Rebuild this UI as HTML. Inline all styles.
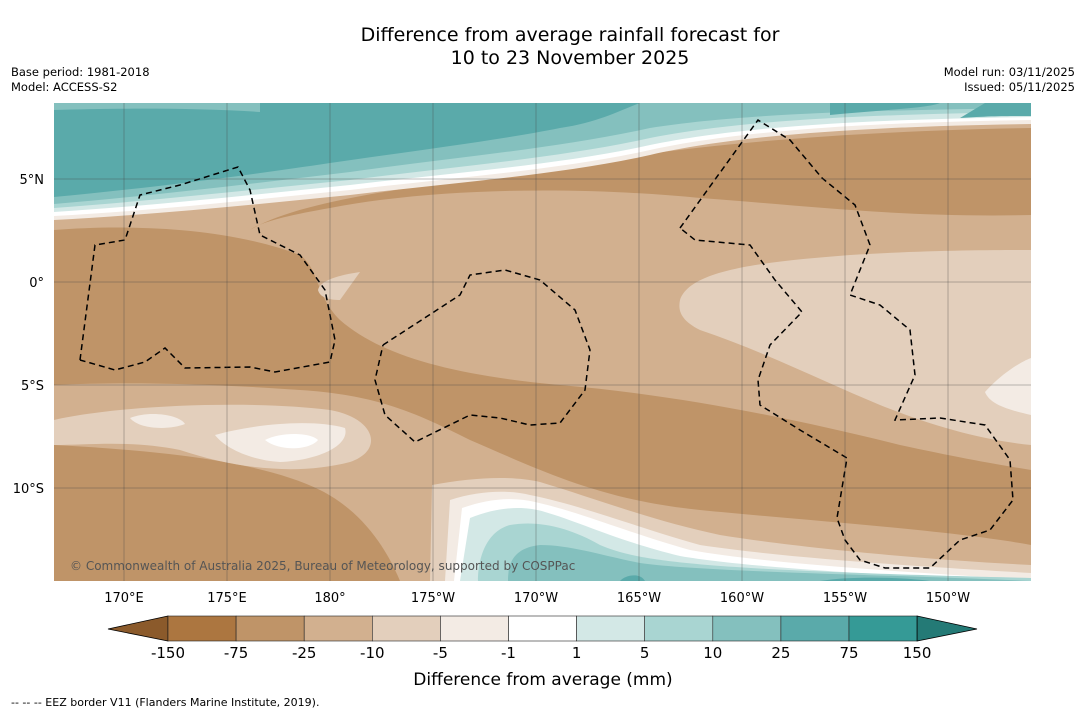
<!DOCTYPE html>
<html><head><meta charset="utf-8"><style>
body{margin:0;background:#fff;width:1085px;height:713px;overflow:hidden;font-family:"Liberation Sans","DejaVu Sans",sans-serif}
svg text{font-family:"DejaVu Sans","Liberation Sans",sans-serif}
</style></head><body>
<svg width="1085" height="713">
<rect width="1085" height="713" fill="#fff"/>
<text x="570" y="41" font-size="19" text-anchor="middle">Difference from average rainfall forecast for</text>
<text x="570" y="64" font-size="19" text-anchor="middle">10 to 23 November 2025</text>
<text x="11" y="76" font-size="11.5">Base period: 1981-2018</text>
<text x="11" y="91" font-size="11.5">Model: ACCESS-S2</text>
<text x="1075" y="76" font-size="11.5" text-anchor="end">Model run: 03/11/2025</text>
<text x="1075" y="91" font-size="11.5" text-anchor="end">Issued: 05/11/2025</text>
<defs><clipPath id="mc"><rect x="54" y="103" width="977" height="478"/></clipPath></defs>
<g clip-path="url(#mc)">
<rect x="54" y="103" width="977" height="478" fill="#d2b08f"/>
<path fill="#bf9468" d="M250,230 C300,200 420,185 550,170 C700,140 900,130 1031,128 L1031,215 C900,218 800,205 700,198 C600,188 450,185 330,208 C290,215 260,222 250,230Z"/>
<path fill="#bf9468" d="M54,230 C120,225 220,225 300,255 C320,270 315,295 340,320 C380,355 450,375 560,385 C680,395 800,420 900,445 C960,458 1000,465 1031,470 L1031,545 C950,530 800,520 700,510 C600,500 540,470 470,440 C420,415 380,395 300,390 C200,383 120,382 54,385Z"/>
<path fill="#bf9468" d="M54,445 C150,450 260,460 320,490 C360,510 385,545 400,581 L54,581Z"/>
<path fill="#e3cfbc" d="M54,420 C120,405 250,400 330,410 C375,418 385,450 350,462 C300,475 240,470 180,450 C130,440 90,445 54,445Z"/>
<path fill="#f3ebe4" d="M130,418 C150,410 180,415 185,424 C170,430 140,430 130,418Z M215,435 C250,425 310,418 345,428 C350,445 320,460 280,462 C250,460 225,448 215,435Z"/>
<path fill="#fff" d="M265,440 C280,432 310,432 318,440 C310,450 280,452 265,440Z"/>
<path fill="#e3cfbc" d="M680,300 C690,270 760,262 850,255 C930,250 1000,250 1031,250 L1031,445 C980,440 930,425 880,405 C820,380 760,350 700,330 C680,320 678,310 680,300Z"/>
<path fill="#e3cfbc" d="M318,290 C320,280 340,275 360,272 L340,300 C330,300 320,298 318,290Z"/>
<path fill="#f3ebe4" d="M985,392 C1000,375 1020,362 1031,358 L1031,415 C1010,410 990,405 985,392Z"/>
<path fill="#e3cfbc" d="M430,581 L432,485 C470,478 510,475 540,482 C600,500 650,520 720,535 C800,548 930,560 1031,565 L1031,581Z"/>
<path fill="#f3ebe4" d="M445,581 L450,500 C480,490 510,490 530,495 C580,505 630,525 700,545 C800,560 950,568 1031,573 L1031,581Z"/>
<path fill="#fff" d="M454,581 L462,508 C490,498 515,497 535,502 C580,512 620,530 690,550 C780,566 950,574 1031,580 L1031,581Z"/>
<path fill="#d3e8e6" d="M460,581 L470,518 C500,506 525,506 545,512 C580,522 615,540 680,556 C760,570 950,578 1031,582 Z"/>
<path fill="#a9d5d2" d="M478,581 C478,560 485,532 510,525 C540,520 570,528 600,545 C640,562 700,570 1031,578 L1031,581Z"/>
<path fill="#84c0be" d="M508,581 C508,565 512,548 540,545 C570,545 600,555 640,563 C700,572 900,575 1031,581Z"/>
<path fill="#5aaaaa" d="M620,581 C625,575 640,572 645,581Z M820,581 C850,576 900,577 930,581Z"/>
<path fill="#f3ebe4" d="M54,220 C150,215 250,205 350,195 C450,183 560,175 650,155 C750,132 900,126 1031,124 L1031,103 L54,103Z"/>
<path fill="#fff" d="M54,216 C150,211 250,200 350,190 C450,178 560,170 650,150 C750,128 900,122 1031,120 L1031,103 L54,103Z"/>
<path fill="#d3e8e6" d="M54,212 C150,206 250,195 350,185 C450,173 560,165 650,145 C750,124 900,119 1031,117 L1031,103 L54,103Z"/>
<path fill="#a9d5d2" d="M54,208 C150,201 250,190 350,180 C450,167 560,158 650,138 C750,118 900,114 1031,112 L1031,103 L54,103Z"/>
<path fill="#84c0be" d="M54,204 C150,196 250,184 350,172 C450,158 560,148 650,128 C750,112 900,110 1031,108 L1031,103 L54,103Z"/>
<path fill="#5aaaaa" d="M54,197 C150,188 250,175 330,163 C420,150 500,140 560,128 C600,122 620,110 640,103 L54,103Z"/>
<path fill="#84c0be" d="M54,110 C120,108 200,108 260,112 L260,103 L54,103Z"/>
<path fill="#5aaaaa" d="M830,115 C880,110 930,108 940,103 L830,103Z M960,118 C990,116 1010,116 1031,116 L1031,103 L985,103Z"/>
<g fill="none" stroke="#000" stroke-width="1.5" stroke-dasharray="6,4">
<polyline points="80,360 95,245 125,240 140,195 180,185 238,167 250,190 260,235 300,255 325,290 335,340 330,362 275,372 250,367 185,368 165,348 145,362 115,370 80,360"/>
<polyline points="383,345 460,295 470,275 505,270 540,280 575,310 590,350 585,390 560,423 530,425 500,418 470,415 415,442 385,415 375,380 383,345"/>
<polyline points="680,228 758,120 790,140 822,178 855,205 870,245 850,295 880,305 910,330 915,375 895,420 940,418 985,425 1010,460 1013,500 990,530 960,540 930,568 885,568 860,560 845,540 837,518 847,458 800,430 760,405 758,380 770,345 802,312 775,280 750,245 695,240 680,228"/>
</g>
<g stroke="#444" stroke-width="0.5" stroke-opacity="0.7" id="grid"></g>
<text x="70" y="570" font-size="12" fill="#555">© Commonwealth of Australia 2025, Bureau of Meteorology, supported by COSPPac</text>
</g>
<g id="axes" font-size="13"></g>
<g id="cbar"></g>
<text x="543" y="685" font-size="17" text-anchor="middle">Difference from average (mm)</text>
<text x="11" y="706" font-size="11">--  --  -- EEZ border V11 (Flanders Marine Institute, 2019).</text>
</svg>
<script>
const lonLabels=["170°E","175°E","180°","175°W","170°W","165°W","160°W","155°W","150°W"];
const lonValues=[170,175,180,185,190,195,200,205,210];
const latLabels=["5°N","0°","5°S","10°S"];
const latValues=[5,0,-5,-10];
const levelLabels=["-150","-75","-25","-10","-5","-1","1","5","10","25","75","150"];
const levelColors=["#ac7640","#bf9468","#d2b08f","#e3cfbc","#f3ebe4","#ffffff","#d3e8e6","#a9d5d2","#84c0be","#5aaaaa","#359a96"];
const NS="http://www.w3.org/2000/svg";
const xLon=l=>124+(l-170)*20.6, yLat=v=>282-v*20.6;
const grid=document.getElementById('grid'),axes=document.getElementById('axes'),cb=document.getElementById('cbar');
function mk(tag,at,par){const e=document.createElementNS(NS,tag);for(const k in at)e.setAttribute(k,at[k]);par.appendChild(e);return e;}
lonValues.forEach((v,i)=>{const x=xLon(v);
const l=mk('line',{x1:x,x2:x,y1:103,y2:581},grid);


const t=mk('text',{x:x,y:602,'text-anchor':'middle'},axes);t.textContent=lonLabels[i];

});
latValues.forEach((v,i)=>{const y=yLat(v);
const l=mk('line',{x1:54,x2:1031,y1:y,y2:y},grid);


const t=mk('text',{x:44,y:y+5,'text-anchor':'end'},axes);t.textContent=latLabels[i];

});
const cx0=168,cw=68.1;
const lt=mk('polygon',{points:`108,629 ${cx0},616 ${cx0},641`,fill:'#8b5a2b',stroke:'#000','stroke-width':0.8},cb);


levelColors.forEach((c,i)=>{const r=mk('rect',{x:cx0+i*cw,y:616,width:cw,height:25,fill:c,stroke:'#222','stroke-width':0.6},cb);

});
const xe=cx0+levelColors.length*cw;
const rt=mk('polygon',{points:`${xe},616 977,629 ${xe},641`,fill:'#247a76',stroke:'#000','stroke-width':0.8},cb);


levelLabels.forEach((s,i)=>{const t=mk('text',{x:cx0+i*cw,y:658,'text-anchor':'middle','font-size':15},cb);t.textContent=s;

});
</script>
</body></html>
